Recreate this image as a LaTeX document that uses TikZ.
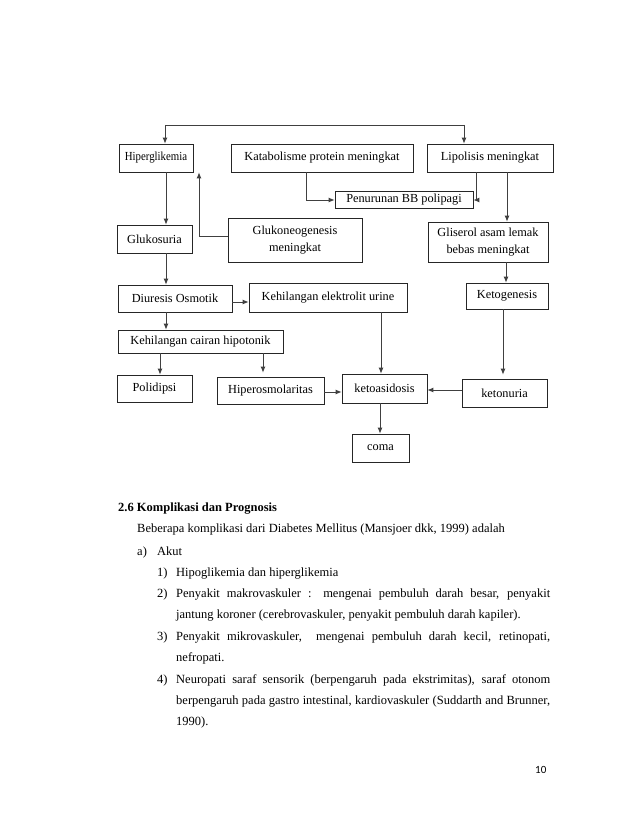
\documentclass[tikz,border=0pt]{standalone}
\usepackage{fontspec}
\setmainfont{Liberation Serif}
\newfontfamily\pagefont{Carlito}
\usetikzlibrary{arrows.meta,calc}
\begin{document}
\begin{tikzpicture}[x=1pt,y=-1pt,
 box/.style={draw=black!85, line width=0.7pt, inner sep=0pt, align=center, font=\fontsize{12.3}{17}\selectfont},
 conn/.style={draw=black!75, line width=0.9pt, -{Latex[length=6pt,width=5pt]}},
 plain/.style={draw=black!75, line width=0.9pt},
 txt/.style={anchor=base west, inner sep=0pt, font=\fontsize{12.5}{15}\selectfont}]
\useasboundingbox[fill=white] (0,0) rectangle (638,826);

% boxes
\node[box, minimum width=74pt, minimum height=28pt] (hiper) at (156,158) {\scalebox{0.88}[1]{Hiperglikemia}};
\node[box, minimum width=182pt, minimum height=28pt] (katab) at (322,158) {Katabolisme protein meningkat};
\node[box, minimum width=126pt, minimum height=28pt] (lipo) at (490,158) {Lipolisis meningkat};
\node[box, minimum width=138pt, minimum height=17pt] (penur) at (404,200) {Penurunan BB polipagi};
\node[box, minimum width=75pt, minimum height=28pt] (gluko) at (154.5,239) {Glukosuria};
\node[box, minimum width=134pt, minimum height=44pt] (glukoneo) at (295,240) {Glukoneogenesis\\meningkat};
\node[box, minimum width=120pt, minimum height=40pt] (gliserol) at (488,242) {Gliserol asam lemak\\bebas meningkat};
\node[box, minimum width=114pt, minimum height=27pt] (diuresis) at (175,298.5) {Diuresis Osmotik};
\node[box, minimum width=158pt, minimum height=29pt] (elektrolit) at (328,297.5) {Kehilangan elektrolit urine};
\node[box, minimum width=82pt, minimum height=26pt] (keto) at (507,296) {Ketogenesis};
\node[box, minimum width=165pt, minimum height=23pt] (cairan) at (200.5,341.5) {Kehilangan cairan hipotonik};
\node[box, minimum width=75pt, minimum height=27pt] (polidipsi) at (154.5,388.5) {Polidipsi};
\node[box, minimum width=107pt, minimum height=27pt] (hiperosm) at (270.5,390.5) {Hiperosmolaritas};
\node[box, minimum width=85pt, minimum height=29pt] (ketoasid) at (384.5,388.5) {ketoasidosis};
\node[box, minimum width=85pt, minimum height=28pt] (ketonuria) at (504.5,393) {ketonuria};
\node[box, minimum width=57pt, minimum height=28pt] (coma) at (380.5,448) {coma};

% connectors
\coordinate (topL) at (165,125);
\coordinate (topR) at (464,125);
\draw[plain] (topL) -- (topR);
\draw[conn] (topL) -- (topL |- hiper.north);
\draw[conn] (topR) -- (topR |- lipo.north);
\draw[conn] ([xshift=-16pt]katab.south) |- (penur.west);
\draw[conn] ([xshift=-14pt]lipo.south) |- (penur.east);
\coordinate (l2) at ([xshift=17pt]lipo.south);
\draw[conn] (l2) -- (l2 |- gliserol.north);
\coordinate (h1) at ([xshift=10pt]hiper.south);
\draw[conn] (h1) -- (h1 |- gluko.north);
\coordinate (h2) at ([xshift=43pt]hiper.south);
\draw[conn] ([yshift=4pt]glukoneo.west) -| (h2);
\coordinate (g1) at ([xshift=11.5pt]gluko.south);
\draw[conn] (g1) -- (g1 |- diuresis.north);
\coordinate (d1) at ([yshift=-3.5pt]diuresis.east);
\draw[conn] (d1) -- (d1 -| elektrolit.west);
\coordinate (gl1) at ([xshift=18pt]gliserol.south);
\draw[conn] (gl1) -- (gl1 |- keto.north);
\coordinate (d2) at ([xshift=-9pt]diuresis.south);
\draw[conn] (d2) -- (d2 |- cairan.north);
\coordinate (c1) at ([xshift=-40.5pt]cairan.south);
\draw[conn] (c1) -- (c1 |- polidipsi.north);
\coordinate (c2) at ([xshift=62.5pt]cairan.south);
\draw[conn, shorten >=4pt] (c2) -- (c2 |- hiperosm.north);
\coordinate (e1) at ([xshift=53pt]elektrolit.south);
\draw[conn] (e1) -- (e1 |- ketoasid.north);
\coordinate (k1) at ([xshift=-4pt]keto.south);
\draw[conn, shorten >=4pt] (k1) -- (k1 |- ketonuria.north);
\coordinate (ho1) at ([yshift=-1.5pt]hiperosm.east);
\draw[conn] (ho1) -- (ho1 -| ketoasid.west);
\coordinate (kn1) at ([yshift=3pt]ketonuria.west);
\draw[conn] (kn1) -- (kn1 -| ketoasid.east);
\coordinate (ka1) at ([xshift=-4.5pt]ketoasid.south);
\draw[conn] (ka1) -- (ka1 |- coma.north);

% text
\node[txt] (t1) at (118,511) {\textbf{2.6 Komplikasi dan Prognosis}};
\node[txt] (t2) at (137,532) {Beberapa komplikasi dari Diabetes Mellitus (Mansjoer dkk, 1999) adalah};
\node[txt] (n1) at (137,555) {a)};
\node[txt] (t3) at (157,555) {Akut};
\node[txt] (n2) at (157,576) {1)};
\node[txt] (t4) at (176,576) {Hipoglikemia dan hiperglikemia};
\node[txt] (n3) at (157,597) {2)};
\node[txt] (t5) at (176,597) {\makebox[374pt][s]{Penyakit makrovaskuler : mengenai pembuluh darah besar, penyakit}};
\node[txt] (t6) at (176,618) {jantung koroner (cerebrovaskuler, penyakit pembuluh darah kapiler).};
\node[txt] (n4) at (157,640) {3)};
\node[txt] (t7) at (176,640) {\makebox[374pt][s]{Penyakit mikrovaskuler,\ \ mengenai pembuluh darah kecil, retinopati,}};
\node[txt] (t8) at (176,661) {nefropati.};
\node[txt] (n5) at (157,683) {4)};
\node[txt] (t9) at (176,683) {\makebox[374pt][s]{Neuropati saraf sensorik (berpengaruh pada ekstrimitas), saraf otonom}};
\node[txt] (t10) at (176,704) {\makebox[374pt][s]{berpengaruh pada gastro intestinal, kardiovaskuler (Suddarth and Brunner,}};
\node[txt] (t11) at (176,725) {1990).};
\node[anchor=base west, inner sep=0pt, font=\pagefont\fontsize{11}{13}\selectfont] (pg) at (535,773) {10};
\end{tikzpicture}
\end{document}
